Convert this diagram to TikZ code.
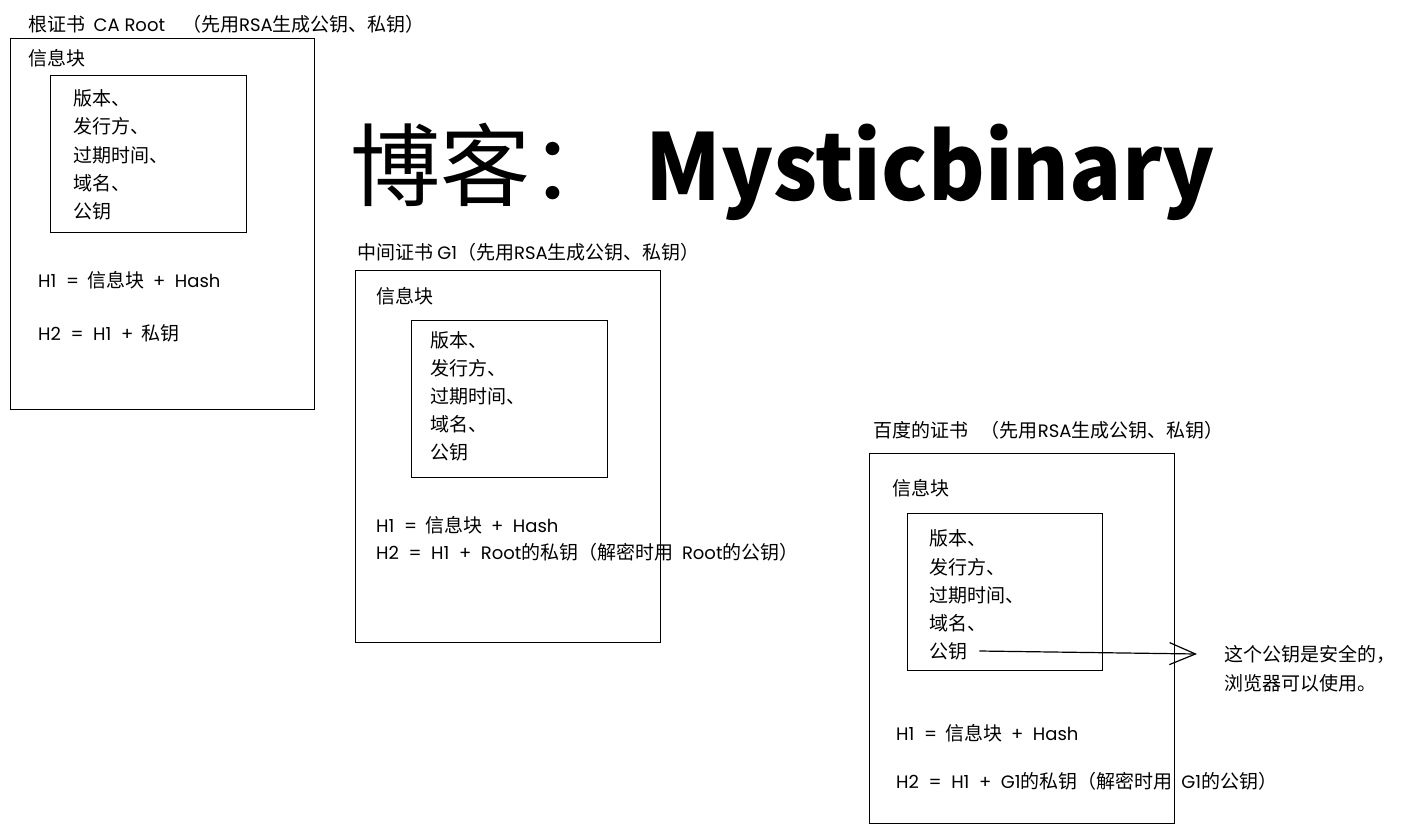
\documentclass[tikz,border=0pt]{standalone}
\usepackage{fontspec}
\setmainfont{Noto Sans CJK SC}
\newfontfamily\poppinsfam{Poppins}
\newcommand\latw[1]{{\fontsize{18}{20}\selectfont\poppinsfam #1}}
\usetikzlibrary{arrows.meta}
\begin{document}
\begin{tikzpicture}[x=1pt,y=-1pt,
  certbox/.style={draw, line width=1.3pt, anchor=north west, inner sep=0pt},
  lbl/.style={anchor=west, inner sep=0pt, font=\fontsize{19}{20}\selectfont},
  hlbl/.style={anchor=west, inner sep=0pt, font=\fontsize{19}{20}\selectfont},
  arr/.style={line width=1.2pt, -{Straight Barb[length=26pt,width=22pt,line width=1.2pt]}}
]
\useasboundingbox (0,0) rectangle (1413,833);

% ---------- Root certificate ----------
\node[lbl] (rtitle) at (28,24) {根证书~~\latw{CA~Root}~~~~（先用\latw{RSA}生成公钥、私钥）};
\node[certbox, minimum width=304pt, minimum height=371pt] (rbox) at (10,38) {};
\node[lbl] (rinfo) at (28,58) {信息块};
\node[certbox, minimum width=196pt, minimum height=157pt] (rinner) at (50,75) {};
\node[lbl] (r1) at (73,98) {版本、};
\node[lbl] (r2) at (73,126) {发行方、};
\node[lbl] (r3) at (73,155) {过期时间、};
\node[lbl] (r4) at (73,183) {域名、};
\node[lbl] (r5) at (73,211) {公钥};
\node[hlbl] (rh1) at (38,280) {\latw{H1~~=}~~信息块~~\latw{+~~Hash}};
\node[hlbl] (rh2) at (38,333) {\latw{H2~~=~~H1~~+}~~私钥};

% ---------- Title ----------
\node[anchor=west, inner sep=0pt, font=\fontsize{90}{94}\selectfont] (blog) at (350,165) {博客：};
\node[anchor=west, inner sep=0pt, font=\fontsize{92}{96}\selectfont\bfseries] (myst) at (645,172) {\scalebox{0.94}[1]{Mysticbinary}};

% ---------- Intermediate certificate ----------
\node[lbl] (mtitle) at (357,252) {中间证书~\latw{G1}（先用\latw{RSA}生成公钥、私钥）};
\node[certbox, minimum width=305pt, minimum height=372pt] (mbox) at (355,270) {};
\node[lbl] (minfo) at (376,296) {信息块};
\node[certbox, minimum width=196pt, minimum height=157pt] (minner) at (411,320) {};
\node[lbl] (m1) at (430,340) {版本、};
\node[lbl] (m2) at (430,368) {发行方、};
\node[lbl] (m3) at (430,396) {过期时间、};
\node[lbl] (m4) at (430,424) {域名、};
\node[lbl] (m5) at (430,452) {公钥};
\node[hlbl] (mh1) at (376,525) {\latw{H1~~=}~~信息块~~\latw{+~~Hash}};
\node[hlbl] (mh2) at (376,552) {\latw{H2~~=~~H1~~+~~Root}的私钥（解密时用~~\latw{Root}的公钥）};

% ---------- Baidu certificate ----------
\node[lbl] (btitle) at (873,430) {百度的证书~~~（先用\latw{RSA}生成公钥、私钥）};
\node[certbox, minimum width=305pt, minimum height=370pt] (bbox) at (869,453) {};
\node[lbl] (binfo) at (892,488) {信息块};
\node[certbox, minimum width=195pt, minimum height=157pt] (binner) at (907,513) {};
\node[lbl] (b1) at (929,538) {版本、};
\node[lbl] (b2) at (929,567) {发行方、};
\node[lbl] (b3) at (929,595) {过期时间、};
\node[lbl] (b4) at (929,623) {域名、};
\node[lbl] (b5) at (929,651) {公钥};
\node[hlbl] (bh1) at (896,733) {\latw{H1~~=}~~信息块~~\latw{+~~Hash}};
\node[hlbl] (bh2) at (896,781) {\latw{H2~~=~~H1~~+~~G1}的私钥（解密时用~~\latw{G1}的公钥）};

\node[lbl] (note1) at (1224,654) {这个公钥是安全的，};
\node[lbl] (note2) at (1224,683) {浏览器可以使用。};

\draw[arr] ([xshift=12pt]b5.east) -- ([xshift=-27pt]note1.west);
\end{tikzpicture}
\end{document}
